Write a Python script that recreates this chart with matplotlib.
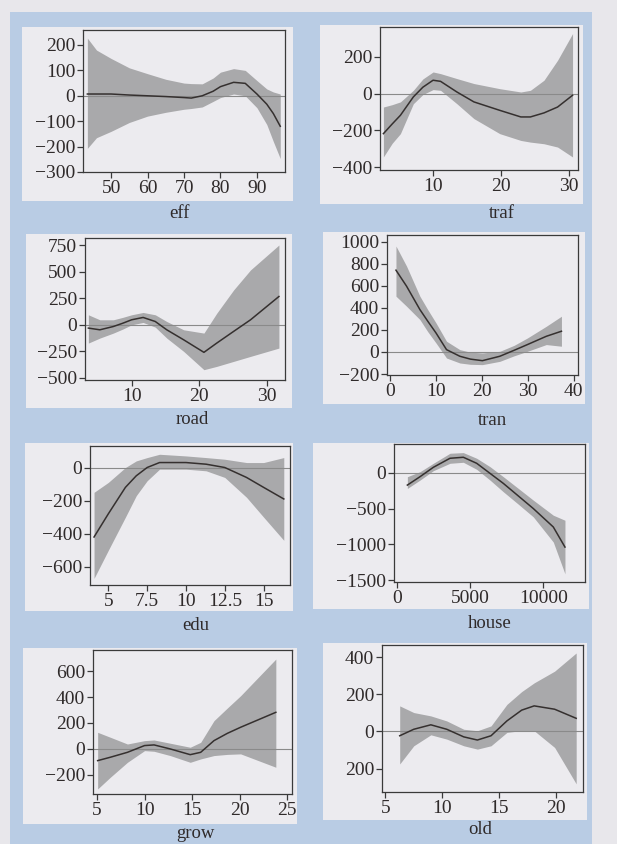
import matplotlib
matplotlib.use("Agg")
import matplotlib.pyplot as plt
from matplotlib.patches import Rectangle

W, H = 617, 844

# ---------------- data ----------------
eff_x = [43.5, 46, 50, 55, 60, 65, 70, 72, 75, 78, 80, 83.6, 86.8, 90, 92.7, 94.5, 96.4]
eff_fit = [7, 7, 7, 3, 0, -3, -7, -9, 0, 18, 36, 53, 49, 7, -33, -70, -120]
eff_hi = [227, 180, 147, 110, 87, 65, 50, 48, 47, 70, 93, 107, 100, 60, 27, 15, 7]
eff_lo = [-207, -165, -140, -105, -80, -65, -53, -50, -44, -22, -7, 7, 0, -47, -113, -180, -247]

traf_x = [2.7, 4, 5.2, 7.1, 8.5, 10, 11.1, 13.5, 16, 19.8, 22.9, 24.3, 26.3, 28.3, 30.5]
traf_fit = [-218, -165, -118, -18, 35, 73, 67, 9, -45, -91, -127, -127, -105, -73, -9]
traf_hi = [-73, -60, -45, 18, 80, 118, 109, 82, 55, 27, 9, 18, 73, 182, 327]
traf_lo = [-345, -270, -218, -55, -5, 22, 18, -55, -136, -218, -255, -264, -273, -291, -345]

road_x = [3.6, 5.3, 7.3, 8.7, 10, 11.7, 13.5, 15.2, 17.7, 20.7, 22.6, 25.1, 27.6, 31.8]
road_fit = [-31, -47, -16, 15, 47, 69, 31, -47, -141, -259, -172, -62, 47, 266]
road_hi = [94, 47, 47, 70, 94, 116, 94, 31, -47, -78, 109, 328, 516, 750]
road_lo = [-172, -125, -78, -40, 0, 22, -22, -125, -250, -422, -391, -344, -297, -219]

tran_x = [1.3, 3.6, 6.5, 8.2, 10, 12.3, 15.2, 17.5, 20.1, 23.9, 27, 29.9, 34, 37.3]
tran_fit = [742, 597, 385, 280, 173, 21, -39, -65, -79, -39, 15, 67, 142, 188]
tran_hi = [961, 779, 506, 385, 264, 97, 21, -2, -9, 6, 60, 127, 233, 324]
tran_lo = [506, 415, 294, 185, 82, -55, -100, -112, -115, -85, -35, 6, 67, 52]

edu_x = [4.08, 5, 6.1, 6.8, 7.5, 8.3, 10, 11.3, 12.5, 13.9, 15, 16.3]
edu_fit = [-420, -280, -120, -50, 0, 30, 30, 20, 0, -60, -120, -190]
edu_hi = [-150, -90, 0, 40, 60, 80, 70, 60, 50, 30, 30, 60]
edu_lo = [-670, -500, -300, -170, -80, -10, -10, -20, -60, -180, -300, -440]

house_x = [727, 1591, 2500, 3636, 4545, 5455, 6364, 7273, 8300, 9318, 10682, 11477]
house_fit = [-173, -56, 75, 201, 215, 131, -9, -149, -325, -500, -757, -1037]
house_hi = [-56, 14, 131, 271, 280, 201, 84, -56, -220, -383, -593, -663]
house_lo = [-220, -103, 28, 131, 145, 47, -103, -266, -440, -616, -967, -1410]

grow_x = [5.07, 6.4, 8.2, 10, 11, 12.7, 14.8, 15.9, 17.3, 18.7, 20.1, 23.8]
grow_fit = [-90, -64, -26, 26, 31, 0, -44, -26, 64, 120, 167, 282]
grow_hi = [128, 90, 38, 64, 69, 44, 13, 51, 218, 315, 410, 692]
grow_lo = [-308, -218, -103, -13, -18, -51, -103, -77, -51, -42, -38, -141]

old_x = [6.26, 7.5, 9, 10.4, 11.9, 13.1, 14.3, 15.7, 17, 18.1, 19.9, 21.8]
old_fit = [-23, 12, 36, 12, -29, -46, -23, 57, 115, 138, 120, 71]
old_hi = [138, 102, 84, 57, 12, 4, 30, 146, 215, 262, 325, 423]
old_lo = [-175, -77, -18, -41, -77, -95, -77, -5, 5, 4, -86, -282]

# tick values and labels
eff_xt, eff_xl = [50, 60, 70, 80, 90], ["50", "60", "70", "80", "90"]
eff_yt, eff_yl = [200, 100, 0, -100, -200, -300], ["200", "100", "0", "\u2212100", "\u2212200", "\u2212300"]
traf_xt, traf_xl = [10, 20, 30], ["10", "20", "30"]
traf_yt, traf_yl = [200, 0, -200, -400], ["200", "0", "\u2212200", "\u2212400"]
road_xt, road_xl = [10, 20, 30], ["10", "20", "30"]
road_yt, road_yl = [750, 500, 250, 0, -250, -500], ["750", "500", "250", "0", "\u2212250", "\u2212500"]
tran_xt, tran_xl = [0, 10, 20, 30, 40], ["0", "10", "20", "30", "40"]
tran_yt, tran_yl = [1000, 800, 600, 400, 200, 0, -200], ["1000", "800", "600", "400", "200", "0", "\u2212200"]
edu_xt, edu_xl = [5, 7.5, 10, 12.5, 15], ["5", "7.5", "10", "12.5", "15"]
edu_yt, edu_yl = [0, -200, -400, -600], ["0", "\u2212200", "\u2212400", "\u2212600"]
house_xt, house_xl = [0, 5000, 10000], ["0", "5000", "10000"]
house_yt, house_yl = [0, -500, -1000, -1500], ["0", "\u2212500", "\u22121000", "\u22121500"]
grow_xt, grow_xl = [5, 10, 15, 20, 25], ["5", "10", "15", "20", "25"]
grow_yt, grow_yl = [600, 400, 200, 0, -200], ["600", "400", "200", "0", "\u2212200"]
old_xt, old_xl = [5, 10, 15, 20], ["5", "10", "15", "20"]
old_yt, old_yl = [400, 200, 0, -200], ["400", "200", "0", "200"]

names = ["eff", "traf", "road", "tran", "edu", "house", "grow", "old"]

# ---------------- layout (pixels) ----------------
panels = [
    ("eff", (eff_x, eff_fit, eff_hi, eff_lo), (eff_xt, eff_xl, eff_yt, eff_yl),
     (83, 285, 30, 172), (22, 293, 27, 201), (42.3, 97.7), (-300, 259), (180, 214)),
    ("traf", (traf_x, traf_fit, traf_hi, traf_lo), (traf_xt, traf_xl, traf_yt, traf_yl),
     (380, 578, 27, 170), (320, 583, 25, 204), (2.2, 31.3), (-416, 363), (502, 213)),
    ("road", (road_x, road_fit, road_hi, road_lo), (road_xt, road_xl, road_yt, road_yl),
     (85, 285, 238, 380), (26, 292, 234, 408), (3.1, 32.7), (-519, 816), (192, 420)),
    ("tran", (tran_x, tran_fit, tran_hi, tran_lo), (tran_xt, tran_xl, tran_yt, tran_yl),
     (387, 578, 235, 375), (323, 585, 232, 404), (-0.65, 40.9), (-209, 1061), (492, 421)),
    ("edu", (edu_x, edu_fit, edu_hi, edu_lo), (edu_xt, edu_xl, edu_yt, edu_yl),
     (90, 290, 446, 585), (25, 293, 443, 611), (3.82, 16.7), (-710, 130), (196, 626)),
    ("house", (house_x, house_fit, house_hi, house_lo), (house_xt, house_xl, house_yt, house_yl),
     (394, 585, 444, 582), (313, 589, 443, 609), (-184, 12844), (-1524, 400), (490, 623)),
    ("grow", (grow_x, grow_fit, grow_hi, grow_lo), (grow_xt, grow_xl, grow_yt, grow_yl),
     (93, 292, 650, 794), (23, 297, 648, 824), (4.58, 25.5), (-347, 762), (195, 833)),
    ("old", (old_x, old_fit, old_hi, old_lo), (old_xt, old_xl, old_yt, old_yl),
     (382, 583, 645, 792), (323, 587, 643, 820), (4.7, 22.4), (-326, 466), (480, 830)),
]

PAPER = "#e8e7eb"
BLUE = "#b9cce4"
PANEL = "#ecebef"
BAND = "#a9a9ab"
LINE = "#35302f"
TXT = "#2f2a2a"
FONT = ["Liberation Serif", "DejaVu Serif"]
TFS = 14
LFS = 13.5

fig = plt.figure(figsize=(W / 100, H / 100), dpi=100)
fig.patch.set_facecolor(PAPER)


def frect(l, r, t, b):
    return (l / W, 1 - b / H, (r - l) / W, (b - t) / H)


x0, y0, w0, h0 = frect(10, 592, 12, 844)
fig.patches.append(Rectangle((x0, y0), w0, h0, transform=fig.transFigure,
                             facecolor=BLUE, edgecolor="none", zorder=-3))

for name, data, ticks, axp, boxp, xlim, ylim, lab in panels:
    bx, by, bw, bh = frect(*boxp)
    fig.patches.append(Rectangle((bx, by), bw, bh, transform=fig.transFigure,
                                 facecolor=PANEL, edgecolor="none", zorder=-2))
    ax = fig.add_axes(frect(*axp))
    ax.set_facecolor(PANEL)
    xs, fit, hi, lo = data
    ax.fill_between(xs, lo, hi, color=BAND, linewidth=0, zorder=1)
    ax.axhline(0, color="#8a8a8a", linewidth=0.8, zorder=2)
    ax.plot(xs, fit, color=LINE, linewidth=1.1, zorder=3)
    ax.set_xlim(*xlim)
    ax.set_ylim(*ylim)
    xt, xl, yt, yl = ticks
    ax.set_xticks(xt)
    ax.set_xticklabels(xl, fontfamily=FONT, fontsize=TFS, color=TXT)
    ax.set_yticks(yt)
    ax.set_yticklabels(yl, fontfamily=FONT, fontsize=TFS, color=TXT)
    ax.tick_params(direction="out", length=4, width=0.9, color="#3a3a3a", pad=1.5)
    for s in ax.spines.values():
        s.set_color("#3a3a3a")
        s.set_linewidth(0.9)
    fig.text(lab[0] / W, 1 - lab[1] / H, name, ha="center", va="center",
             fontfamily=FONT, fontsize=LFS, color=TXT)

fig.savefig("out.png", dpi=100, facecolor=PAPER)
